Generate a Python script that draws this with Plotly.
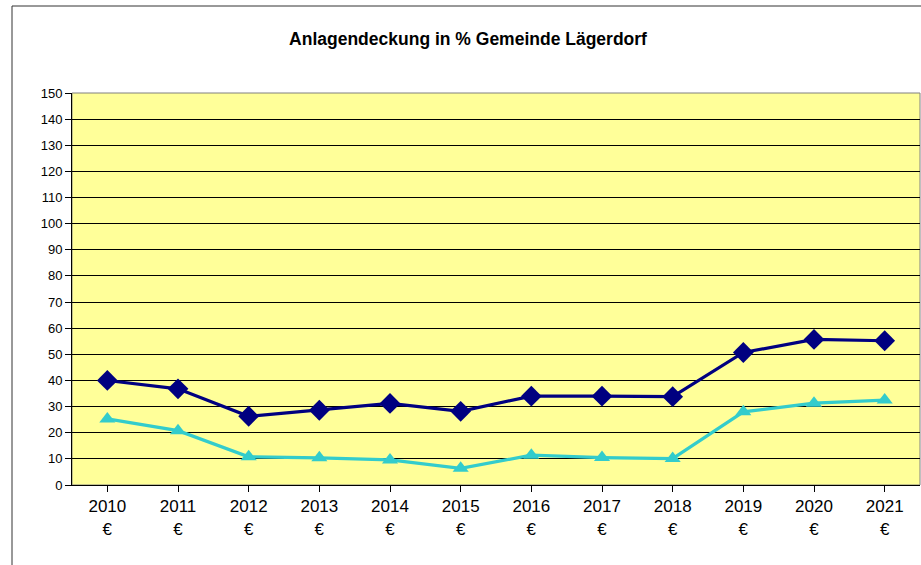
import plotly.graph_objects as go

years = ["2010", "2011", "2012", "2013", "2014", "2015", "2016", "2017", "2018", "2019", "2020", "2021"]
tick_labels = [y + "<br>€" for y in years]
series_a = [40.0, 36.8, 26.3, 28.6, 31.2, 28.2, 34.0, 34.0, 33.8, 50.7, 55.7, 55.2]
series_b = [25.3, 20.8, 10.8, 10.4, 9.6, 6.4, 11.4, 10.5, 10.1, 28.0, 31.3, 32.5]
y_ticks = list(range(0, 151, 10))

fig = go.Figure()
fig.add_trace(go.Scatter(x=years, y=series_a, mode="lines+markers",
                         line=dict(color="#000080", width=3.2),
                         marker=dict(symbol="diamond", size=16, color="#000080"),
                         showlegend=False))
fig.add_trace(go.Scatter(x=years, y=series_b, mode="lines+markers",
                         line=dict(color="#33CCCC", width=3.2),
                         marker=dict(symbol="triangle-up", size=14, color="#33CCCC"),
                         showlegend=False))

W, H = 921, 565
l, r, t, b = 72, 1, 93, 80
pw = W - l - r
ph = H - t - b

fig.update_layout(
    width=W, height=H,
    margin=dict(l=l, r=r, t=t, b=b),
    paper_bgcolor="white",
    plot_bgcolor="#FFFF99",
    font=dict(family="Liberation Sans, Arial", size=13, color="black"),
    title=dict(text="<b>Anlagendeckung in % Gemeinde Lägerdorf</b>",
               x=468 / W, xanchor="center", y=1 - 39 / H, yanchor="middle",
               font=dict(size=17.5, color="black")),
    xaxis=dict(tickmode="array", tickvals=years, ticktext=tick_labels,
               showgrid=False, ticks="outside", ticklen=6, tickcolor="black",
               showline=True, linecolor="black", linewidth=1,
               tickfont=dict(size=17), zeroline=False,
               range=[-0.5, 11.5]),
    yaxis=dict(range=[0, 150], tickvals=y_ticks, showgrid=True,
               gridcolor="black", gridwidth=1, ticks="outside", ticklen=6,
               tickcolor="black", showline=True, linecolor="black",
               linewidth=1, tickfont=dict(size=13), zeroline=False),
    shapes=[
        dict(type="rect", xref="paper", yref="paper",
             x0=(12 - l) / pw, x1=(W + 5 - l) / pw,
             y0=-(H + 5 - t - ph) / ph, y1=1 + (t - 6) / ph,
             line=dict(color="#333333", width=1), fillcolor="rgba(0,0,0,0)",
             layer="below"),
        dict(type="rect", xref="paper", yref="paper", x0=0, x1=1, y0=0, y1=1,
             line=dict(color="#808080", width=1), fillcolor="rgba(0,0,0,0)",
             layer="below"),
    ],
)

fig.write_html("out.html", config={"displayModeBar": False},
               post_script="document.body.style.margin='0px';document.body.style.overflow='hidden';")
